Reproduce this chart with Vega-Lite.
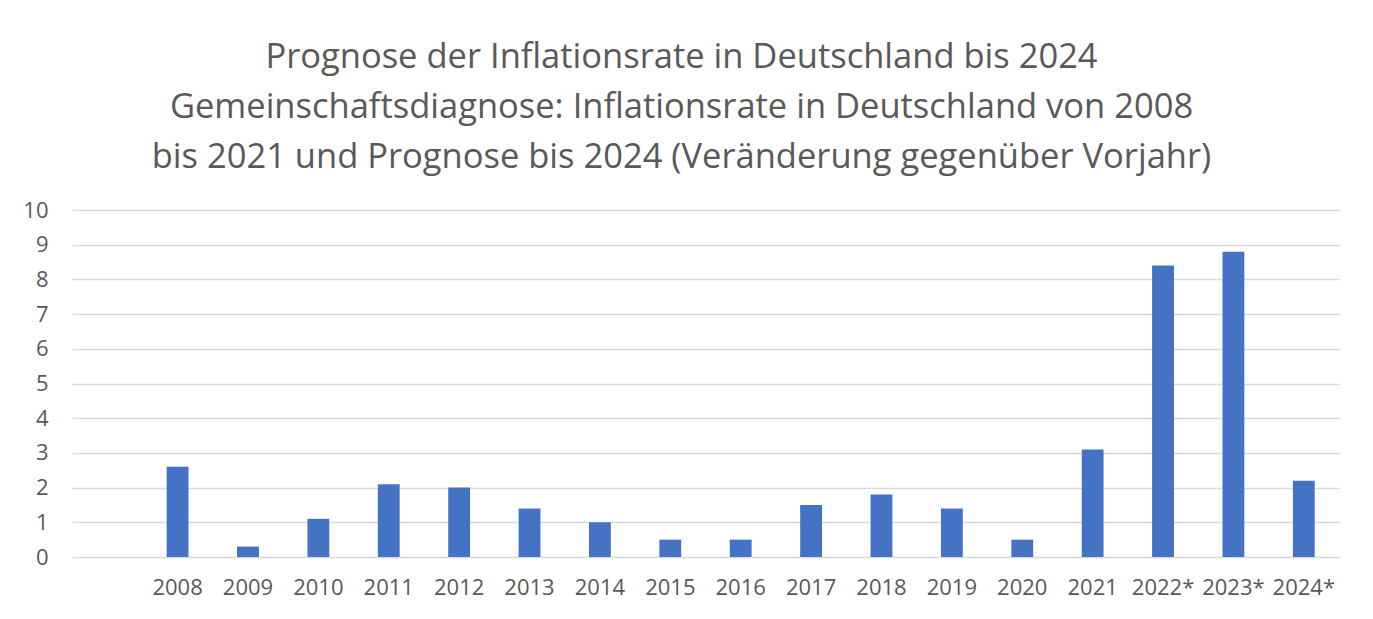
{
  "$schema": "https://vega.github.io/schema/vega-lite/v6.json",
  "width": 1267,
  "height": 347,
  "autosize": {"type": "none"},
  "padding": {"left": 72, "top": 210, "right": 34, "bottom": 62},
  "background": "white",
  "title": {
    "text": ["Prognose der Inflationsrate in Deutschland bis 2024", "Gemeinschaftsdiagnose: Inflationsrate in Deutschland von 2008", "bis 2021 und Prognose bis 2024 (Veränderung gegenüber Vorjahr)"],
    "font": "Open Sans",
    "fontSize": 34.5,
    "fontWeight": "normal",
    "color": "#595959",
    "lineHeight": 50,
    "anchor": "middle",
    "dx": -24,
    "offset": 24
  },
  "data": {
    "values": [
      {"year": "2008", "rate": 2.6},
      {"year": "2009", "rate": 0.3},
      {"year": "2010", "rate": 1.1},
      {"year": "2011", "rate": 2.1},
      {"year": "2012", "rate": 2.0},
      {"year": "2013", "rate": 1.4},
      {"year": "2014", "rate": 1.0},
      {"year": "2015", "rate": 0.5},
      {"year": "2016", "rate": 0.5},
      {"year": "2017", "rate": 1.5},
      {"year": "2018", "rate": 1.8},
      {"year": "2019", "rate": 1.4},
      {"year": "2020", "rate": 0.5},
      {"year": "2021", "rate": 3.1},
      {"year": "2022*", "rate": 8.4},
      {"year": "2023*", "rate": 8.8},
      {"year": "2024*", "rate": 2.2}
    ]
  },
  "mark": {"type": "bar", "color": "#4472C4"},
  "encoding": {
    "x": {
      "field": "year",
      "type": "ordinal",
      "sort": null,
      "scale": {
        "domain": [" ", "2008", "2009", "2010", "2011", "2012", "2013", "2014", "2015", "2016", "2017", "2018", "2019", "2020", "2021", "2022*", "2023*", "2024*"],
        "paddingInner": 0.69,
        "paddingOuter": 0.345
      },
      "axis": {
        "title": null,
        "labelAngle": 0,
        "ticks": false,
        "domain": false,
        "labelFont": "Open Sans",
        "labelFontSize": 22,
        "labelColor": "#595959",
        "labelPadding": 20
      }
    },
    "y": {
      "field": "rate",
      "type": "quantitative",
      "scale": {"domain": [0, 10], "nice": false},
      "axis": {
        "title": null,
        "values": [0, 1, 2, 3, 4, 5, 6, 7, 8, 9, 10],
        "ticks": false,
        "domain": false,
        "grid": true,
        "gridColor": "#d9d9d9",
        "gridWidth": 1.5,
        "labelFont": "Open Sans",
        "labelFontSize": 22,
        "labelColor": "#595959",
        "labelPadding": 24
      }
    }
  },
  "config": {"view": {"stroke": null}}
}
